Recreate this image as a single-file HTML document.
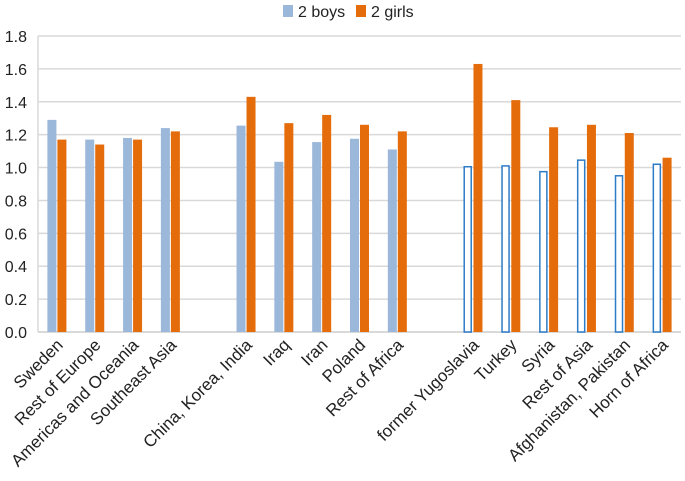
<!DOCTYPE html>
<html><head><meta charset="utf-8"><style>
body{margin:0;background:#fff;}
svg text{font-family:"Liberation Sans",sans-serif;fill:#222;}
</style></head><body>
<svg id="chart" width="685" height="476" xmlns="http://www.w3.org/2000/svg">
<g>
<rect x="283" y="5" width="10" height="12" fill="#9bb7d9"/>
<text x="298" y="17" font-size="16">2 boys</text>
<rect x="356" y="5" width="10" height="12" fill="#e46c0a"/>
<text x="371" y="17" font-size="16">2 girls</text>
</g>
<g id="grid"></g><g id="bars"></g><g id="labels"></g>
</svg>
<script>
const categories=["Sweden","Rest of Europe","Americas and Oceania","Southeast Asia",null,"China, Korea, India","Iraq","Iran","Poland","Rest of Africa",null,"former Yugoslavia","Turkey","Syria","Rest of Asia","Afghanistan, Pakistan","Horn of Africa"];
const boys=[1.29,1.17,1.18,1.24,null,1.255,1.035,1.155,1.175,1.11,null,1.005,1.01,0.975,1.045,0.95,1.02];
const girls=[1.17,1.14,1.17,1.22,null,1.43,1.27,1.32,1.26,1.22,null,1.63,1.41,1.245,1.26,1.21,1.06];
const hollow=[0,0,0,0,0,0,0,0,0,0,0,1,1,1,1,1,1];
const yTicks=["0.0","0.2","0.4","0.6","0.8","1.0","1.2","1.4","1.6","1.8"];
const NS="http://www.w3.org/2000/svg";
const x0=38,x1=681,y0=332,yTop=36,yMax=1.8;
const w=(x1-x0)/categories.length;
const y=v=>y0-(v/yMax)*(y0-yTop);
const xc=i=>x0+w*(i+0.5);
function mk(t,a,p){const e=document.createElementNS(NS,t);for(const k in a)e.setAttribute(k,a[k]);p.appendChild(e);return e;}
const grid=document.getElementById('grid'),bars=document.getElementById('bars'),labels=document.getElementById('labels');
yTicks.forEach(t=>{const v=parseFloat(t);
const l=mk('line',{x1:x0,x2:x1,y1:y(v),y2:y(v),stroke:'#d9d9d9','stroke-width':v===0?2:1.5},grid);


const tx=mk('text',{x:x0-11,y:y(v)+6,'text-anchor':'end','font-size':'16'},grid);tx.textContent=t;

});
const ax=mk('line',{x1:x0,x2:x0,y1:yTop,y2:y0,stroke:'#d9d9d9','stroke-width':1.5},grid);


const bw=9.5;
categories.forEach((c,i)=>{if(c===null)return;
const cx=xc(i);
let b;
if(hollow[i]){b=mk('rect',{x:cx-bw+0.75,y:y(boys[i]),width:bw-2.5,height:y0-y(boys[i]),fill:'#fff',stroke:'#2e7bc8','stroke-width':1.5},bars);}
else{b=mk('rect',{x:cx-bw,y:y(boys[i]),width:bw-0.5,height:y0-y(boys[i]),fill:'#9bb7d9'},bars);}


const g=mk('rect',{x:cx+0.5,y:y(girls[i]),width:bw-0.5,height:y0-y(girls[i]),fill:'#e46c0a'},bars);


const t=mk('text',{x:0,y:0,'text-anchor':'end','font-size':'17',transform:`translate(${cx+7},${y0+14}) rotate(-45)`},labels);
t.textContent=c;


});
</script>
</body></html>
